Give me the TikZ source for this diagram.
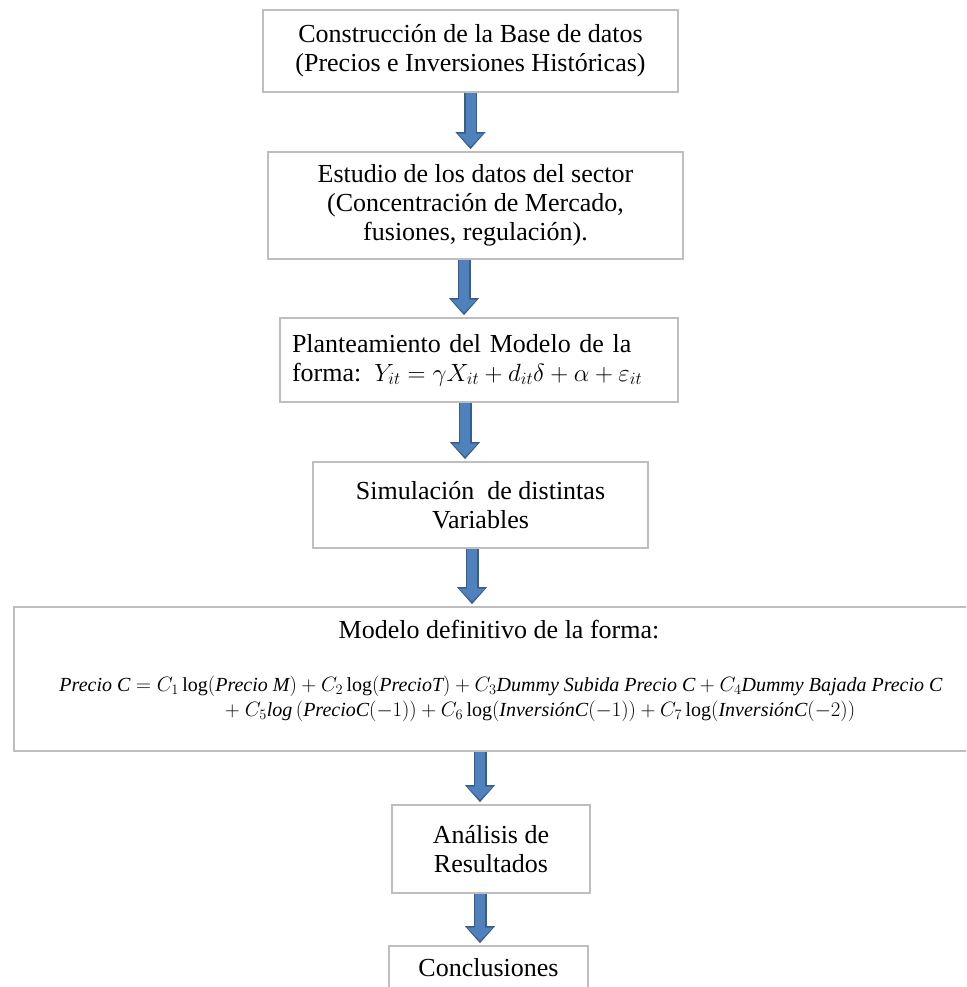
\documentclass[tikz,border=0pt]{standalone}
\usepackage{amsmath}
\usepackage{fontspec}
\setmainfont{Liberation Serif}
\usetikzlibrary{arrows.meta,positioning}
\definecolor{boxEdge}{RGB}{190,190,190}
\definecolor{arrowFill}{RGB}{79,129,189}
\definecolor{arrowEdge}{RGB}{56,93,138}
\tikzset{
  flowbox/.style={draw=boxEdge, line width=1.8pt, fill=white, align=center,
    inner sep=0pt, font=\fontsize{26pt}{29pt}\selectfont},
  flowtext/.style={inner sep=0pt, font=\fontsize{26pt}{29pt}\selectfont},
  eqtext/.style={inner sep=0pt, font=\fontsize{20pt}{22pt}\selectfont},
  flowarrow/.style={draw=arrowEdge, line width=13pt, shorten >=2pt,
    -{Triangle[length=17pt,width=30pt,line width=1pt]},
    postaction={draw=arrowFill, line width=10pt, shorten >=4.4pt,
      -{Triangle[length=13pt,width=25pt,line width=1pt]}}},
}

\begin{document}
\begin{tikzpicture}[x=1pt,y=-1pt]
    \useasboundingbox (0,0) rectangle (966,987);
    \clip (0,0) rectangle (966,987);
    % steps of the study
    \node[flowbox, minimum width=415pt, minimum height=82pt] (b1) at (470.5,51)
      {Construcción de la Base de datos\\(Precios e Inversiones Históricas)};
    \node[flowbox, minimum width=415pt, minimum height=107pt] (b2) at (475.5,205.5)
      {Estudio de los datos del sector\\(Concentración de Mercado,\\fusiones, regulación).};
    \node[flowbox, align=left, text width=374pt, minimum width=398pt, minimum height=84pt] (b3) at (479,360)
      {Planteamiento del Modelo de la\\forma: $Y_{it} = \gamma X_{it} + d_{it}\delta + \alpha + \varepsilon_{it}$};
    \node[flowbox, minimum width=335pt, minimum height=86pt] (b4) at (480.5,505)
      {Simulación\ \ de distintas\\Variables};
    \node[flowbox, minimum width=954pt, minimum height=144pt] (b5) at (491,679) {};
    \node[flowbox, minimum width=198pt, minimum height=88pt] (b6) at (491,849)
      {Análisis de\\Resultados};
    \node[flowbox, minimum width=199pt, minimum height=44pt] (b7) at (488.5,968)
      {Conclusiones};
    % final model
    \node[flowtext, anchor=base] (b5title) at (499,638) {Modelo definitivo de la forma:};
    \node[eqtext, anchor=base] (b5eq1) at (501,691)
      {$\textit{Precio C} = C_1\log(\textit{Precio M}) + C_2\log(\textit{PrecioT}) + C_3\textit{Dummy Subida Precio C} + C_4\textit{Dummy Bajada Precio C}$};
    \node[eqtext, anchor=base] (b5eq2) at (540,716)
      {$+\ C_5\textit{log}\,(\textit{PrecioC}(-1)) + C_6\log(\textit{InversiónC}(-1)) + C_7\log(\textit{InversiónC}(-2))$};
    % arrows
    \draw[flowarrow] (b1.south) -- (b1.south |- b2.north);
    \draw[flowarrow] ([xshift=-11.5pt]b2.south) -- ([xshift=-11.5pt]b2.south |- b3.north);
    \draw[flowarrow] ([xshift=-14pt]b3.south) -- ([xshift=-14pt]b3.south |- b4.north);
    \draw[flowarrow] ([xshift=-8.5pt]b4.south) -- ([xshift=-8.5pt]b4.south |- b5.north);
    \draw[flowarrow] ([xshift=-11pt]b5.south) -- ([xshift=-11pt]b5.south |- b6.north);
    \draw[flowarrow] ([xshift=-11pt]b6.south) -- ([xshift=-11pt]b6.south |- b7.north);
\end{tikzpicture}
\end{document}
